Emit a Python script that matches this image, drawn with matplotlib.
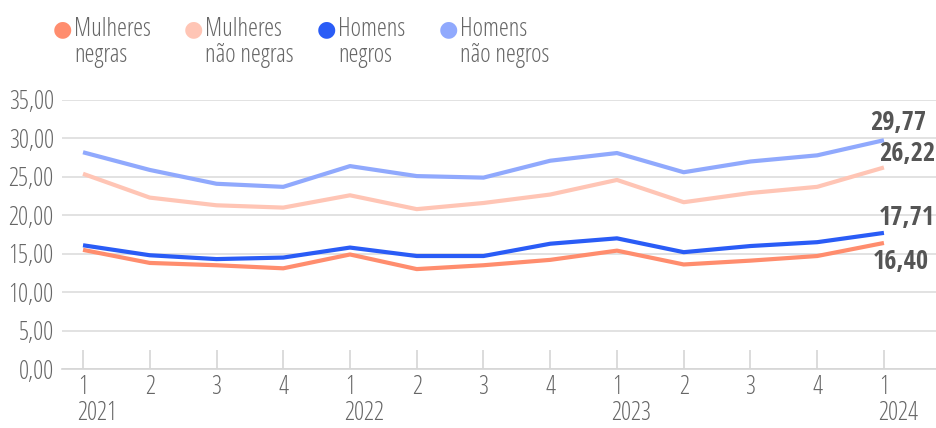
import matplotlib.pyplot as plt
import matplotlib.transforms as mtransforms
from matplotlib import font_manager

# Data (quarters 2021Q1 .. 2024Q1)
quarters = ["1", "2", "3", "4", "1", "2", "3", "4", "1", "2", "3", "4", "1"]
years = ["2021", "2022", "2023", "2024"]
mulheres_negras = [15.5, 13.8, 13.5, 13.1, 14.9, 13.0, 13.5, 14.2, 15.4, 13.6, 14.1, 14.7, 16.40]
mulheres_nao_negras = [25.4, 22.3, 21.3, 21.0, 22.6, 20.8, 21.6, 22.7, 24.6, 21.7, 22.9, 23.7, 26.22]
homens_negros = [16.1, 14.8, 14.3, 14.5, 15.8, 14.7, 14.7, 16.3, 17.0, 15.2, 16.0, 16.5, 17.71]
homens_nao_negros = [28.2, 25.9, 24.1, 23.7, 26.4, 25.1, 24.9, 27.1, 28.1, 25.6, 27.0, 27.8, 29.77]

series = [
    ("Mulheres\nnegras", mulheres_negras, "#ff8d6e"),
    ("Mulheres\nnão negras", mulheres_nao_negras, "#ffc5b5"),
    ("Homens\nnegros", homens_negros, "#2a5cf6"),
    ("Homens\nnão negros", homens_nao_negros, "#90a9fd"),
]

# the reference uses a light condensed sans, pick the closest installed face
narrow = ("condensed", "semi-condensed", "extra-condensed", "ultra-condensed")
pref = ["Open Sans", "Roboto", "Noto Sans", "Liberation Sans", "DejaVu Sans"]

def wnum(w):
    return w if isinstance(w, int) else font_manager.weight_dict.get(w, 400)

def is_narrow(f):
    return f.stretch in narrow or "Condensed" in f.name or "Narrow" in f.name

def rank(f):
    return next((i for i, p in enumerate(pref) if f.name.startswith(p)), 99)

faces = [f for f in font_manager.fontManager.ttflist if f.style == "normal" and is_narrow(f)]
light = sorted([f for f in faces if wnum(f.weight) <= 400], key=lambda f: (rank(f), abs(wnum(f.weight) - 300)))
heavy = [f for f in faces if wnum(f.weight) >= 600]
if light:
    base = light[0]
    plt.rcParams["font.family"] = base.name
    plt.rcParams["font.stretch"] = base.stretch
    plt.rcParams["font.weight"] = wnum(base.weight)
    fs = 18
    heavy.sort(key=lambda f: (f.name != base.name, rank(f), abs(wnum(f.weight) - 700)))
else:
    plt.rcParams["font.family"] = "DejaVu Sans"
    fs = 14
if heavy:
    bold_fp = font_manager.FontProperties(fname=heavy[0].fname, size=19)
else:
    bold_fp = font_manager.FontProperties(family=plt.rcParams["font.family"], weight="bold", size=16)

W, H = 936, 428
fig = plt.figure(figsize=(W / 100, H / 100), dpi=100)
ax = fig.add_axes([62 / W, 1 - 369 / H, (936 - 62) / W, (369 - 100) / H])

x = list(range(len(quarters)))
for label, vals, col in series:
    ax.plot(x, vals, color=col, lw=3, solid_capstyle="butt", zorder=3)

ax.set_ylim(0, 35)
ax.set_xlim(-0.315, 12.78)
ax.set_yticks(range(0, 36, 5))
ax.set_yticklabels([f"{v},00" for v in range(0, 36, 5)], fontsize=fs, color="#666666")
ax.grid(axis="y", color="#dddddd", lw=1.2)
ax.set_axisbelow(True)
for s in ["top", "right", "left"]:
    ax.spines[s].set_visible(False)
ax.spines["bottom"].set_color("#d5d5d5")
ax.spines["bottom"].set_linewidth(1.2)
ax.tick_params(axis="y", length=0, pad=6)
ax.set_xticks(x)
ax.set_xticklabels(quarters, fontsize=fs, color="#666666")
ax.tick_params(axis="x", direction="in", length=14, width=1.2, color="#d5d5d5", pad=4)

# year labels under the first quarter of each year
tr = ax.get_xaxis_transform() + mtransforms.ScaledTranslation(14 / 100, 0, fig.dpi_scale_trans)
for i, yr in enumerate(years):
    ax.text(i * 4, -0.12, yr, transform=tr, ha="center", va="top", fontsize=fs, color="#666666")

# end labels
last = len(quarters) - 1
ax.annotate("29,77", (last, homens_nao_negros[-1]), xytext=(14, 4), textcoords="offset pixels",
            ha="center", va="bottom", fontproperties=bold_fp, color="#555555")
ax.annotate("26,22", (last, mulheres_nao_negras[-1]), xytext=(-5, 14), textcoords="offset pixels",
            ha="left", va="center", fontproperties=bold_fp, color="#555555")
ax.annotate("17,71", (last, homens_negros[-1]), xytext=(-5, 15), textcoords="offset pixels",
            ha="left", va="center", fontproperties=bold_fp, color="#555555")
ax.annotate("16,40", (last, mulheres_negras[-1]), xytext=(-11, -19), textcoords="offset pixels",
            ha="left", va="center", fontproperties=bold_fp, color="#555555")

# legend at top
legend_x = [62, 193, 326, 448]
for (label, vals, col), px in zip(series, legend_x):
    fig.text(px / W, 1 - 29 / H, "\u25cf", color=col, fontsize=16, ha="center", va="center",
             family="DejaVu Sans", stretch="normal", weight="normal")
    fig.text((px + 12) / W, 1 - 36 / H, label.split("\n")[0], color="#666666", fontsize=fs,
             ha="left", va="baseline")
    fig.text((px + 12) / W, 1 - 62 / H, label.split("\n")[1], color="#666666", fontsize=fs,
             ha="left", va="baseline")

fig.savefig("out.png", dpi=100)
